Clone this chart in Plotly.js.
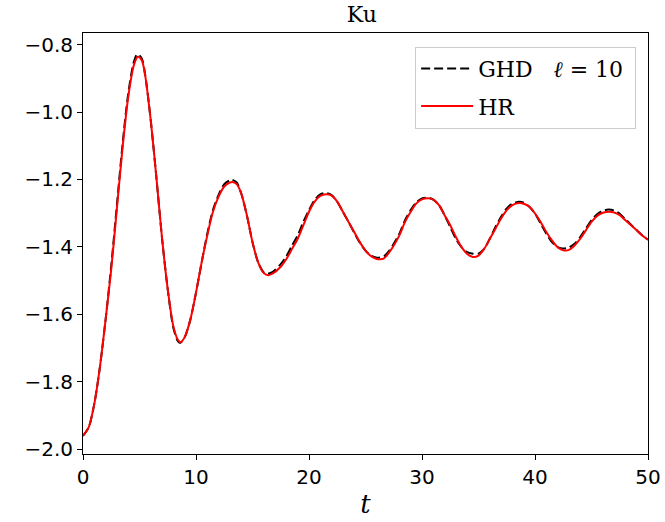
<!DOCTYPE html>
<html>
<head>
<meta charset="utf-8">
<script src="https://cdn.plot.ly/plotly-3.0.1.min.js"></script>
<style>html,body{margin:0;padding:0;background:#fff;}#chart{width:665px;height:522px;}</style>
</head>
<body>
<div id="chart"></div>
<script>
// time values (t)
const tHR = [0,0.5,1,1.5,2,2.5,3,3.5,4,4.5,4.85,5.2,5.5,6,6.5,7,7.5,8,8.4,8.65,9,9.5,10,10.5,11,11.5,12,12.5,13,13.3,13.6,14,14.5,15,15.5,16,16.4,16.8,17.5,18,18.5,19,19.5,20,20.5,21,21.5,22,22.5,23,23.5,24,24.5,25,25.5,26,26.3,26.6,27,27.5,28,28.5,29,29.5,30,30.5,31,31.5,32,32.5,33,33.5,34,34.5,35,35.5,36,36.5,37,37.5,38,38.6,39,39.5,40,40.5,41,41.5,42,42.5,43,43.5,44,44.5,45,45.5,46,46.6,47,47.5,48,48.5,49,49.5,50];
const yHR = [-1.961,-1.936,-1.866,-1.756,-1.616,-1.466,-1.286,-1.106,-0.956,-0.861,-0.836,-0.846,-0.891,-1.026,-1.196,-1.376,-1.526,-1.636,-1.676,-1.683,-1.668,-1.616,-1.536,-1.446,-1.366,-1.296,-1.251,-1.221,-1.209,-1.208,-1.214,-1.241,-1.306,-1.386,-1.446,-1.478,-1.484,-1.479,-1.459,-1.436,-1.406,-1.376,-1.336,-1.296,-1.266,-1.249,-1.244,-1.248,-1.266,-1.296,-1.326,-1.356,-1.386,-1.411,-1.428,-1.436,-1.437,-1.435,-1.421,-1.396,-1.366,-1.326,-1.296,-1.271,-1.259,-1.256,-1.260,-1.276,-1.306,-1.336,-1.371,-1.401,-1.421,-1.430,-1.426,-1.406,-1.376,-1.346,-1.316,-1.291,-1.276,-1.270,-1.272,-1.281,-1.301,-1.326,-1.356,-1.381,-1.401,-1.410,-1.409,-1.396,-1.376,-1.351,-1.326,-1.308,-1.299,-1.296,-1.298,-1.306,-1.321,-1.336,-1.351,-1.366,-1.379];
const tGHD = [0,0.5,1,1.5,2,2.5,3,3.5,4,4.5,4.8,5.2,5.5,6,6.5,7,7.5,8,8.4,8.6,9,9.5,10,10.5,11,11.5,12,12.5,13,13.2,13.6,14,14.5,15,15.5,16,16.3,16.8,17.5,18,18.5,19,19.5,20,20.5,21,21.5,22,22.5,23,23.5,24,24.5,25,25.5,26,26.2,26.6,27,27.5,28,28.5,29,29.5,30,30.5,31,31.5,32,32.5,33,33.5,34,34.4,35,35.5,36,36.5,37,37.5,38,38.6,39,39.5,40,40.5,41,41.5,42,42.4,43,43.5,44,44.5,45,45.5,46,46.5,47,47.5,48,48.5,49,49.5,50];
const yGHD = [-1.961,-1.936,-1.866,-1.756,-1.616,-1.456,-1.276,-1.096,-0.946,-0.851,-0.828,-0.841,-0.889,-1.026,-1.196,-1.376,-1.526,-1.641,-1.680,-1.685,-1.668,-1.616,-1.536,-1.446,-1.361,-1.291,-1.246,-1.214,-1.202,-1.201,-1.209,-1.241,-1.306,-1.386,-1.446,-1.476,-1.480,-1.474,-1.451,-1.428,-1.396,-1.366,-1.326,-1.291,-1.261,-1.244,-1.240,-1.246,-1.266,-1.296,-1.326,-1.358,-1.388,-1.411,-1.426,-1.432,-1.432,-1.429,-1.416,-1.391,-1.361,-1.321,-1.291,-1.268,-1.256,-1.254,-1.260,-1.276,-1.306,-1.341,-1.376,-1.401,-1.416,-1.420,-1.420,-1.406,-1.376,-1.341,-1.311,-1.286,-1.272,-1.266,-1.269,-1.281,-1.301,-1.331,-1.361,-1.386,-1.401,-1.405,-1.402,-1.391,-1.371,-1.346,-1.321,-1.303,-1.293,-1.289,-1.292,-1.302,-1.318,-1.334,-1.351,-1.366,-1.379];
const xTicks = [0,10,20,30,40,50];
const yTicks = [-2.0,-1.8,-1.6,-1.4,-1.2,-1.0,-0.8];
const yTickText = ['−2.0','−1.8','−1.6','−1.4','−1.2','−1.0','−0.8'];

const traces = [
  {x:tGHD, y:yGHD, mode:'lines', name:'GHD&nbsp;&nbsp;&nbsp;<i>ℓ</i> = 10&nbsp;', legendgroup:'a',
   line:{color:'#000', width:2, dash:'9px,4px', shape:'spline', smoothing:0.8}},
  {x:tHR, y:yHR, mode:'lines', name:'HR', legendgroup:'b',
   line:{color:'#ff0000', width:2, shape:'spline', smoothing:0.8}}
];
const axisCommon = {showline:true, linecolor:'#000', linewidth:1, mirror:true, ticks:'outside',
  ticklen:5, tickwidth:1, tickcolor:'#000', showgrid:false, zeroline:false,
  tickfont:{family:'DejaVu Sans', size:20, color:'#000'}};
const layout = {
  width:665, height:522,
  margin:{l:83, r:17, t:33, b:68},
  paper_bgcolor:'#fff', plot_bgcolor:'#fff',
  title:{text:'Ku', font:{family:'DejaVu Serif', size:22, color:'#000'}, x:0.544, xanchor:'center', y:0.972, yanchor:'middle'},
  xaxis:Object.assign({}, axisCommon, {range:[0,50], tickvals:xTicks,
    title:{text:'<i>t</i>', font:{family:'DejaVu Serif', size:26, color:'#000'}, standoff:6}}),
  yaxis:Object.assign({}, axisCommon, {range:[-2.0148,-0.7653], tickvals:yTicks, ticktext:yTickText}),
  showlegend:true,
  legend:{x:0.979, xanchor:'right', y:0.9675, yanchor:'top', bgcolor:'#fff', bordercolor:'#cccccc', borderwidth:1,
    font:{family:'DejaVu Serif', size:22, color:'#000'}, traceorder:'grouped', tracegroupgap:6, itemwidth:52}
};
Plotly.newPlot('chart', traces, layout, {displayModeBar:false, staticPlot:true});
</script>
</body>
</html>
